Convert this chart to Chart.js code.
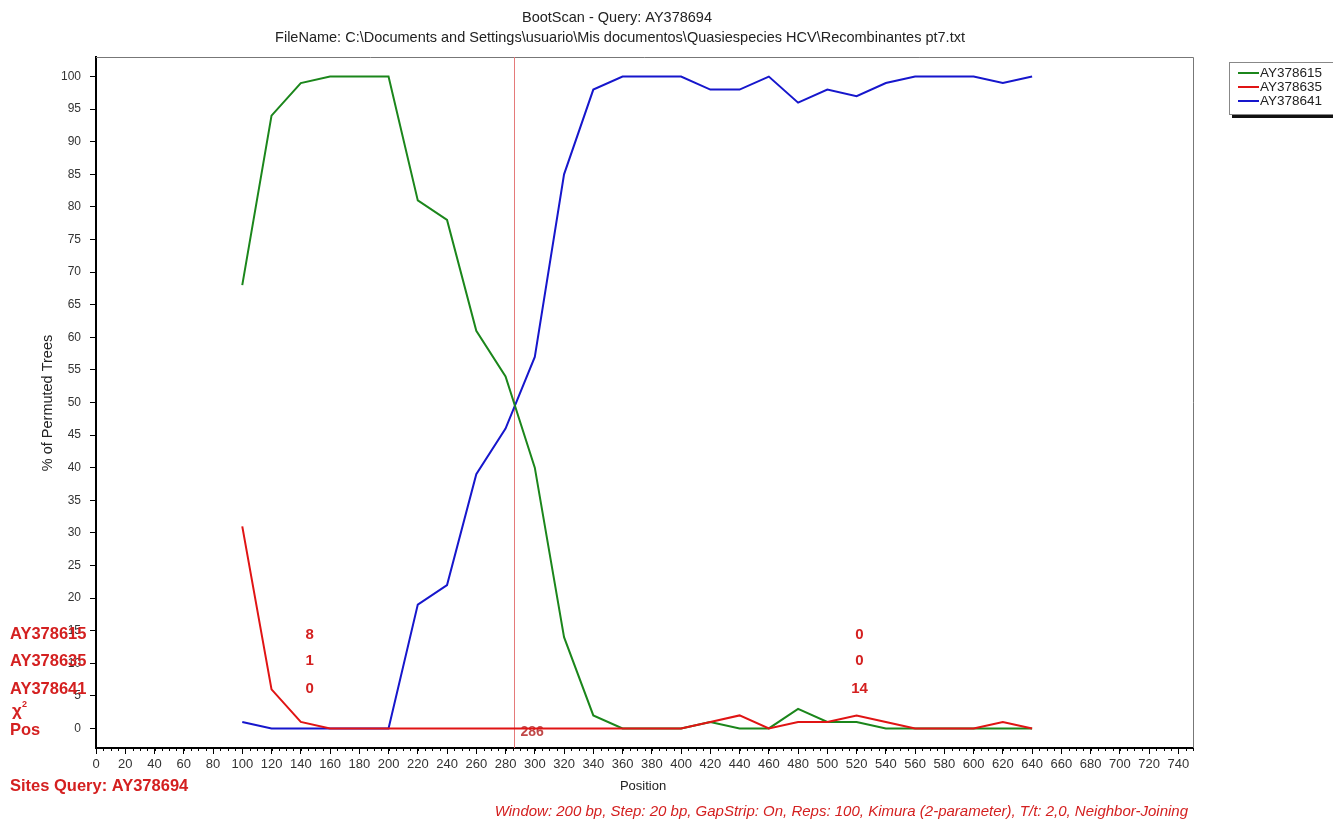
<!DOCTYPE html>
<html>
<head>
<meta charset="utf-8">
<title>BootScan - Query: AY378694</title>
<script src="https://cdn.jsdelivr.net/npm/chart.js@4.4.1/dist/chart.umd.min.js"></script>
<style>
  html, body { margin: 0; padding: 0; background: #fff; }
  #wrap { width: 1333px; height: 821px; position: relative; }
</style>
</head>
<body>
<div id="wrap"><canvas id="bootscan" width="1333" height="821"></canvas></div>
<script>
/* =========================
   DATA
========================= */
const positions = [100, 120, 140, 160, 180, 200, 220, 240, 260, 280, 300, 320, 340, 360,
  380, 400, 420, 440, 460, 480, 500, 520, 540, 560, 580, 600, 620, 640];

const ay378615 = [68, 94, 99, 100, 100, 100, 81, 78, 61, 54, 40, 14, 2, 0,
  0, 0, 1, 0, 0, 3, 1, 1, 0, 0, 0, 0, 0, 0];
const ay378635 = [31, 6, 1, 0, 0, 0, 0, 0, 0, 0, 0, 0, 0, 0,
  0, 0, 1, 2, 0, 1, 1, 2, 1, 0, 0, 0, 1, 0];
const ay378641 = [1, 0, 0, 0, 0, 0, 19, 22, 39, 46, 57, 85, 98, 100,
  100, 100, 98, 98, 100, 96, 98, 97, 99, 100, 100, 100, 99, 100];

const seriesNames = ["AY378615", "AY378635", "AY378641"];
const seriesColors = ["#1b861b", "#e01414", "#1616cc"];

const xTickValues = [0, 20, 40, 60, 80, 100, 120, 140, 160, 180, 200, 220, 240, 260, 280,
  300, 320, 340, 360, 380, 400, 420, 440, 460, 480, 500, 520, 540, 560, 580, 600, 620,
  640, 660, 680, 700, 720, 740];
const yTickValues = [0, 5, 10, 15, 20, 25, 30, 35, 40, 45, 50, 55, 60, 65, 70, 75, 80, 85,
  90, 95, 100];

// breakpoint and chi-square table
const breakPos = 286;
const chiRows = ["AY378615", "AY378635", "AY378641"];
const chiLevels = [14.4, 10.3, 6.0];
const chiCols = [146, 522];
const chiValues = [["8", "0"], ["1", "0"], ["0", "14"]];

const FONT = "'Liberation Sans', Arial, sans-serif";

/* =========================
   HELPERS
========================= */
function toPoints(values) {
  return positions.map((p, i) => ({ x: p, y: values[i] }));
}

/* =========================
   OVERLAY PLUGIN
========================= */
const overlay = {
  id: "overlay",
  beforeDatasetsDraw(chart) {
    const { ctx, chartArea: a, scales } = chart;
    const x = scales.x, y = scales.y;
    ctx.save();
    // top / right frame
    ctx.strokeStyle = "#777";
    ctx.lineWidth = 1;
    ctx.beginPath();
    ctx.moveTo(a.left, a.top + 0.5);
    ctx.lineTo(a.right + 0.5, a.top + 0.5);
    ctx.lineTo(a.right + 0.5, a.bottom);
    ctx.stroke();

    // breakpoint line
    const bx = Math.round(x.getPixelForValue(breakPos)) + 0.5;
    ctx.strokeStyle = "#e57a7a";
    ctx.lineWidth = 1;
    ctx.beginPath();
    ctx.moveTo(bx, a.top);
    ctx.lineTo(bx, a.bottom);
    ctx.stroke();

    ctx.fillStyle = "#c04848";
    ctx.font = "bold 14px " + FONT;
    ctx.textAlign = "left";
    ctx.textBaseline = "middle";
    ctx.fillText(String(breakPos), bx + 6, y.getPixelForValue(-0.6));

    // minor ticks on x axis
    ctx.strokeStyle = "#000";
    ctx.beginPath();
    for (let v = 0; v <= 750; v += 5) {
      const px = Math.round(x.getPixelForValue(v)) + 0.5;
      ctx.moveTo(px, a.bottom);
      ctx.lineTo(px, a.bottom + 3);
    }
    ctx.stroke();
    ctx.restore();
  },
  afterDraw(chart) {
    const { ctx, chartArea: a, scales } = chart;
    const x = scales.x, y = scales.y;
    ctx.save();

    // titles
    ctx.fillStyle = "#222";
    ctx.textAlign = "center";
    ctx.textBaseline = "middle";
    ctx.font = "14.5px " + FONT;
    ctx.fillText("BootScan - Query: AY378694", 617, 18);
    ctx.fillText("FileName: C:\\Documents and Settings\\usuario\\Mis documentos\\Quasiespecies HCV\\Recombinantes pt7.txt", 620, 38);

    ctx.font = "13px " + FONT;
    ctx.fillText("Position", 643, 786);
    ctx.save();
    ctx.translate(48, 403);
    ctx.rotate(-Math.PI / 2);
    ctx.font = "14.5px " + FONT;
    ctx.fillText("% of Permuted Trees", 0, 0);
    ctx.restore();

    // chi-square table
    ctx.fillStyle = "#d42020";
    ctx.font = "bold 16.5px " + FONT;
    ctx.textAlign = "left";
    chiRows.forEach((name, r) => {
      const py = y.getPixelForValue(chiLevels[r]);
      ctx.fillText(name, 10, py);
    });
    ctx.font = "bold 17px " + FONT;
    ctx.fillText("\u03C7", 12, y.getPixelForValue(2.6));
    ctx.font = "bold 9px " + FONT;
    ctx.fillText("2", 22, y.getPixelForValue(3.6));
    ctx.font = "bold 16.5px " + FONT;
    ctx.fillText("Pos", 10, y.getPixelForValue(-0.3));

    ctx.textAlign = "center";
    ctx.font = "bold 15px " + FONT;
    chiValues.forEach((row, r) => {
      const py = y.getPixelForValue(chiLevels[r]);
      row.forEach((val, c) => {
        ctx.fillText(val, x.getPixelForValue(chiCols[c]), py);
      });
    });

    // footer texts
    ctx.textAlign = "left";
    ctx.font = "bold 16.5px " + FONT;
    ctx.fillText("Sites Query: AY378694", 10, 786);
    ctx.textAlign = "right";
    ctx.font = "italic 15px " + FONT;
    ctx.fillText("Window: 200 bp, Step: 20 bp, GapStrip: On, Reps: 100, Kimura (2-parameter), T/t: 2,0, Neighbor-Joining", 1188, 812);

    // legend box
    const lx = 1229, ly = 62, lw = 112, lh = 52;
    ctx.fillStyle = "#111";
    ctx.fillRect(lx + 3, ly + lh, lw, 4);
    ctx.fillStyle = "#fff";
    ctx.fillRect(lx, ly, lw, lh);
    ctx.strokeStyle = "#888";
    ctx.lineWidth = 1;
    ctx.strokeRect(lx + 0.5, ly + 0.5, lw, lh);
    ctx.font = "13.5px " + FONT;
    ctx.textAlign = "left";
    seriesNames.forEach((name, i) => {
      const py = ly + 11 + i * 14;
      ctx.strokeStyle = seriesColors[i];
      ctx.lineWidth = 2;
      ctx.beginPath();
      ctx.moveTo(lx + 9, py);
      ctx.lineTo(lx + 30, py);
      ctx.stroke();
      ctx.fillStyle = "#222";
      ctx.fillText(name, lx + 31, py);
    });
    ctx.restore();
  }
};

/* =========================
   CHART
========================= */
new Chart(document.getElementById("bootscan"), {
  type: "line",
  data: {
    datasets: [
      { label: seriesNames[1], data: toPoints(ay378635), borderColor: seriesColors[1], order: 0 },
      { label: seriesNames[0], data: toPoints(ay378615), borderColor: seriesColors[0], order: 1 },
      { label: seriesNames[2], data: toPoints(ay378641), borderColor: seriesColors[2], order: 2 }
    ]
  },
  options: {
    responsive: false,
    animation: false,
    devicePixelRatio: 1,
    datasets: {
      line: { borderWidth: 2, pointRadius: 0, tension: 0, fill: false }
    },
    layout: { padding: { left: 0, top: 57, right: 140, bottom: 0 } },
    plugins: {
      legend: { display: false },
      title: { display: false },
      tooltip: { enabled: false }
    },
    scales: {
      x: {
        type: "linear",
        min: 0,
        max: 750,
        afterBuildTicks: (s) => { s.ticks = xTickValues.map(v => ({ value: v })); },
        afterFit: (s) => { s.height = 73; },
        grid: { drawOnChartArea: false, drawTicks: true, tickLength: 6, color: "#000" },
        border: { color: "#000", width: 2 },
        ticks: {
          autoSkip: false, maxRotation: 0, padding: 3,
          color: "#333", font: { family: FONT, size: 13 }
        }
      },
      y: {
        type: "linear",
        min: -3,
        max: 103,
        afterBuildTicks: (s) => { s.ticks = yTickValues.map(v => ({ value: v })); },
        afterFit: (s) => { s.width = 96; },
        grid: { drawOnChartArea: false, drawTicks: true, tickLength: 6, color: "#000" },
        border: { color: "#000", width: 2 },
        ticks: {
          padding: 9,
          color: "#333", font: { family: FONT, size: 12 }
        }
      }
    }
  },
  plugins: [overlay]
});
</script>
</body>
</html>
